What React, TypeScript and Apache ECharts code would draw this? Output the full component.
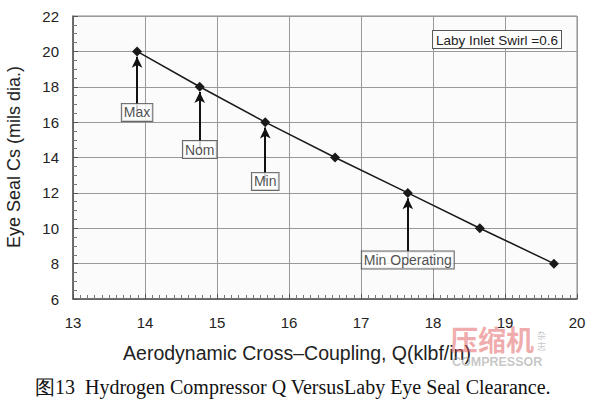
import React, { useEffect, useRef } from "react";
import * as echarts from "echarts";

const couplingQ = [13.89, 14.76, 15.67, 16.64, 17.65, 18.65, 19.68];
const sealClearance = [20, 18, 16, 14, 12, 10, 8];

const annotationNames = ["Max", "Nom", "Min", "Min Operating"];
const annotationIndex = [0, 1, 2, 4];
const annotationLabelY = [16.55, 14.45, 12.65, 8.2];

const xTicks = [13, 14, 15, 16, 17, 18, 19, 20];
const yTicks = [6, 8, 10, 12, 14, 16, 18, 20, 22];

const noteText = "Laby Inlet Swirl =0.6";
const xTitle = "Aerodynamic Cross\u2013Coupling, Q(klbf/in)";
const yTitle = "Eye Seal Cs (mils dia.)";
const caption = "图13  Hydrogen Compressor Q VersusLaby Eye Seal Clearance.";

export default function App() {
  const ref = useRef<HTMLDivElement>(null);
  useEffect(() => {
    document.body.style.margin = "0";
    const chart = echarts.init(ref.current!, null, { renderer: "svg" });
    const font = "Liberation Sans";
    const lineData = couplingQ.map((x, i) => [x, sealClearance[i]]);
    const annData = annotationNames.map((n, i) => ({
      name: n,
      value: [couplingQ[annotationIndex[i]], annotationLabelY[i]],
    }));
    const arrows = annotationNames.map((n, i) => [
      { coord: [couplingQ[annotationIndex[i]], annotationLabelY[i]] },
      { coord: [couplingQ[annotationIndex[i]], sealClearance[annotationIndex[i]] - 0.3] },
    ]);
    chart.setOption({
      animation: false,
      backgroundColor: "#ffffff",
      grid: {
        left: 73,
        right: 23,
        top: 16,
        bottom: 100,
        show: true,
        backgroundColor: "#fbfbfb",
        borderColor: "#888",
        borderWidth: 1,
      },
      xAxis: {
        type: "value",
        min: xTicks[0],
        max: xTicks[xTicks.length - 1],
        interval: 1,
        axisLine: { show: true, lineStyle: { color: "#555", width: 1.5 } },
        axisTick: { show: true, inside: true, length: 5, lineStyle: { color: "#555" } },
        minorTick: { show: true, splitNumber: 10, length: 4, lineStyle: { color: "#777" } },
        axisLabel: { fontFamily: font, fontSize: 15, color: "#222", margin: 16 },
        splitLine: { show: true, lineStyle: { color: "#999", width: 1 } },
      },
      yAxis: {
        type: "value",
        min: yTicks[0],
        max: yTicks[yTicks.length - 1],
        interval: 2,
        axisLine: { show: true, lineStyle: { color: "#555", width: 1.5 } },
        axisTick: { show: true, inside: true, length: 5, lineStyle: { color: "#555" } },
        minorTick: { show: true, splitNumber: 4, length: 4, lineStyle: { color: "#777" } },
        axisLabel: { fontFamily: font, fontSize: 15, color: "#222", margin: 14 },
        splitLine: { show: true, lineStyle: { color: "#999", width: 1 } },
      },
      series: [
        {
          type: "line",
          data: lineData,
          symbol: "diamond",
          symbolSize: 10,
          itemStyle: { color: "#1a1a1a" },
          lineStyle: { color: "#1a1a1a", width: 1.5 },
          z: 3,
          markLine: {
            silent: true,
            symbol: ["none", "arrow"],
            symbolSize: [8, 11],
            lineStyle: { color: "#111", width: 2, type: "solid" },
            label: { show: false },
            data: arrows,
          },
        },
        {
          type: "scatter",
          data: annData,
          symbolSize: 0,
          z: 5,
          label: {
            show: true,
            position: "inside",
            formatter: "{b}",
            fontFamily: font,
            fontSize: 14,
            color: "#222",
            backgroundColor: "#ffffff",
            borderColor: "#444",
            borderWidth: 1,
            padding: [2, 2, 1, 2],
          },
        },
      ],
      graphic: [
        {
          type: "text",
          x: 14,
          y: 157,
          rotation: Math.PI / 2,
          style: {
            text: yTitle,
            fontFamily: font,
            fontSize: 18,
            fill: "#222",
            align: "center",
            verticalAlign: "middle",
          },
        },
        {
          type: "text",
          x: 297,
          y: 353,
          style: {
            text: xTitle,
            fontFamily: font,
            fontSize: 19.5,
            fill: "#222",
            align: "center",
            verticalAlign: "middle",
          },
        },
        {
          type: "text",
          right: 38,
          top: 30,
          z: 10,
          style: {
            text: noteText,
            fontFamily: font,
            fontSize: 13.5,
            fill: "#222",
            backgroundColor: "#ffffff",
            borderColor: "#555",
            borderWidth: 1,
            padding: [2, 3, 1, 3],
          },
        },
        {
          type: "text",
          left: 450,
          top: 325,
          z: 10,
          style: {
            text: "压缩机",
            fontFamily: "Noto Sans CJK SC",
            fontSize: 28,
            fontWeight: "bold",
            fill: "rgba(226,90,90,0.5)",
          },
        },
        {
          type: "text",
          left: 537,
          top: 330,
          z: 10,
          style: {
            text: "杂\n志",
            fontFamily: "Noto Sans CJK SC",
            fontSize: 9,
            lineHeight: 11,
            fill: "rgba(150,150,150,0.55)",
          },
        },
        {
          type: "text",
          left: 452,
          top: 355,
          z: 10,
          style: {
            text: "COMPRESSOR",
            fontFamily: font,
            fontSize: 12.5,
            fontWeight: "bold",
            fill: "rgba(150,150,150,0.55)",
          },
        },
        {
          type: "text",
          left: 35,
          top: 377,
          style: {
            text: caption,
            fontFamily: "Liberation Serif",
            fontSize: 20,
            fill: "#111",
          },
        },
      ],
    });
    return () => chart.dispose();
  }, []);
  return (
    <div
      ref={ref}
      style={{ width: 600, height: 399, position: "absolute", left: 0, top: 0 }}
    />
  );
}
